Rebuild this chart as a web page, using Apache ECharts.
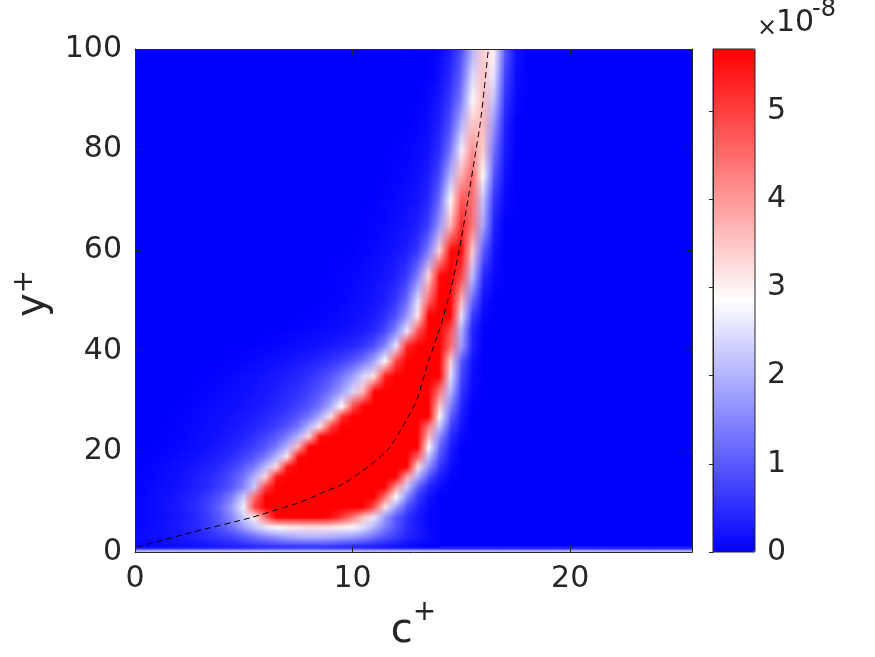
<!DOCTYPE html>
<html><head><meta charset="utf-8">
<script src="https://cdn.jsdelivr.net/npm/echarts@6/dist/echarts.min.js"></script>
<style>html,body{margin:0;padding:0;background:#fff}#c{width:875px;height:657px}</style>
</head><body><div id="c"></div>
<script>
// ---- data (values in units of 1e-8), sampled every cStep in c+ starting at rowC0 ----
const cStep = 0.5;
const rowY = [0.2, 1, 3, 5, 7, 9, 11, 13, 15, 17, 19, 21, 23, 25, 27, 29, 32, 35, 38, 41, 44, 47, 50, 55, 60, 65, 70, 75, 80, 85, 90, 95, 99];
const rowC0 = [0, 0, 0, 0, 0, 0, 0, 0, 0, 0, 0, 1, 1, 1.5, 1.5, 2, 2.5, 3, 4, 5.5, 7, 8, 8.5, 9, 10, 10.5, 11, 11.5, 12, 12.5, 13, 13.5, 13.5];
const rowVals = [
  [2,2,2,2,2,2,2,2,2,2,2,2,2,2,2,2,2,2,2,2,2,2,2,2,2,2,2,2,2,2,2,2,2,2,2,2,2,2,2,2,2,2,2,2,2,2,2,2,2,2,2,2,2],
  [0.05,0.05,0.08,0.1,0.12,0.15,0.18,0.2,0.25,0.3,0.35,0.4,0.45,0.5,0.5,0.5,0.5,0.5,0.45,0.4,0.35,0.3,0.25,0.2,0.15,0.1,0.05,0],
  [0.1,0.12,0.15,0.2,0.25,0.3,0.4,0.5,0.6,0.75,0.95,1.2,1.4,1.6,1.8,1.9,1.95,1.95,1.9,1.8,1.7,1.5,1.2,0.9,0.65,0.4,0.25,0.12,0],
  [0.08,0.1,0.15,0.2,0.28,0.38,0.5,0.7,0.95,1.3,1.75,2.2,2.6,2.85,3.0,3.1,3.15,3.15,3.1,3.0,2.8,2.5,2.0,1.4,0.9,0.5,0.25,0.1,0],
  [0.05,0.08,0.12,0.18,0.25,0.35,0.5,0.75,1.1,1.6,2.3,3.0,4.5,5.7,5.7,5.7,5.7,5.7,5.6,5.1,4.4,3.5,2.6,1.7,1.0,0.55,0.25,0.08,0],
  [0.05,0.08,0.13,0.2,0.28,0.4,0.55,0.8,1.2,1.8,2.7,5.0,5.7,5.7,5.7,5.7,5.7,5.7,5.7,5.7,5.7,5.7,4.8,3.1,1.8,0.9,0.4,0.1,0],
  [0.05,0.08,0.12,0.18,0.25,0.35,0.5,0.7,1.0,1.5,2.3,4.5,5.7,5.7,5.7,5.7,5.7,5.7,5.7,5.7,5.7,5.7,5.7,4.4,2.85,1.5,0.6,0.2,0],
  [0.04,0.06,0.1,0.14,0.2,0.28,0.38,0.5,0.7,1.0,1.5,2.3,5.0,5.7,5.7,5.7,5.7,5.7,5.7,5.7,5.7,5.7,5.7,5.7,4.0,2.3,1.1,0.4,0.1,0],
  [0.03,0.05,0.08,0.12,0.18,0.25,0.35,0.48,0.65,0.9,1.3,2.0,3.3,5.5,5.7,5.7,5.7,5.7,5.7,5.7,5.7,5.7,5.7,5.7,5.7,3.8,2.0,0.9,0.3,0.05,0],
  [0,0.03,0.06,0.1,0.15,0.2,0.28,0.38,0.5,0.7,1.0,1.4,2.1,3.2,5.5,5.7,5.7,5.7,5.7,5.7,5.7,5.7,5.7,5.7,5.7,5.7,3.2,1.6,0.6,0.15,0],
  [0,0,0.03,0.06,0.1,0.15,0.2,0.28,0.38,0.5,0.7,0.95,1.35,2.0,3.1,5.6,5.7,5.7,5.7,5.7,5.7,5.7,5.7,5.7,5.7,5.7,4.6,2.2,0.9,0.25,0],
  [0,0.03,0.06,0.1,0.15,0.2,0.28,0.38,0.5,0.7,0.95,1.35,2.0,3.6,5.7,5.7,5.7,5.7,5.7,5.7,5.7,5.7,5.7,5.7,5.7,2.85,1.2,0.35,0],
  [0,0.02,0.05,0.08,0.12,0.17,0.22,0.3,0.4,0.55,0.75,1.0,1.4,2.0,3.3,5.6,5.7,5.7,5.7,5.7,5.7,5.7,5.7,5.7,5.7,3.6,1.6,0.5,0.1,0],
  [0,0.04,0.07,0.1,0.14,0.18,0.24,0.3,0.4,0.52,0.7,0.95,1.3,2.0,3.1,5.0,5.7,5.7,5.7,5.7,5.7,5.7,5.7,5.7,4.3,2.2,0.8,0.2,0],
  [0,0.03,0.06,0.09,0.12,0.16,0.2,0.26,0.33,0.42,0.55,0.72,0.95,1.3,1.9,3.1,5.2,5.7,5.7,5.7,5.7,5.7,5.7,5.7,5.7,2.9,1.1,0.3,0],
  [0,0.03,0.06,0.09,0.12,0.16,0.2,0.26,0.33,0.42,0.55,0.72,0.95,1.3,1.9,2.85,4.8,5.7,5.7,5.7,5.7,5.7,5.7,5.7,3.4,1.5,0.4,0],
  [0,0.03,0.06,0.09,0.12,0.16,0.2,0.26,0.33,0.42,0.55,0.72,0.95,1.3,1.75,2.4,3.6,5.7,5.7,5.7,5.7,5.7,5.7,4.4,2.1,0.6,0.1,0],
  [0,0.03,0.06,0.09,0.12,0.16,0.2,0.26,0.33,0.42,0.55,0.72,0.95,1.3,1.75,2.4,3.2,5.4,5.7,5.7,5.7,5.7,5.7,2.6,0.8,0.15,0],
  [0,0.03,0.06,0.09,0.12,0.16,0.2,0.26,0.33,0.42,0.55,0.72,0.95,1.3,1.85,2.85,5.0,5.7,5.7,5.7,5.7,3.3,1.0,0.2,0],
  [0,0.03,0.06,0.09,0.12,0.16,0.2,0.26,0.33,0.42,0.6,0.9,1.5,2.6,5.3,5.7,5.7,5.7,4.5,1.8,0.4,0],
  [0,0.03,0.06,0.09,0.12,0.16,0.22,0.3,0.45,0.8,1.5,2.6,4.8,5.7,5.7,4.8,2.0,0.4,0],
  [0,0.03,0.06,0.1,0.14,0.2,0.3,0.5,0.9,1.7,3.1,5.7,5.7,5.7,2.6,0.7,0.1,0],
  [0,0.03,0.06,0.1,0.15,0.22,0.35,0.6,1.2,2.5,4.6,5.7,5.7,3.6,1.2,0.2,0],
  [0,0.03,0.06,0.1,0.15,0.22,0.35,0.65,1.4,3.3,5.6,5.7,5.0,2.2,0.5,0.1,0],
  [0,0.04,0.08,0.13,0.2,0.32,0.6,1.4,3.3,5.6,5.6,3.4,1.1,0.2,0],
  [0,0.04,0.08,0.13,0.2,0.35,0.7,1.7,3.6,5.3,4.4,1.9,0.4,0],
  [0,0.04,0.08,0.13,0.22,0.45,1.2,2.85,4.8,4.5,2.2,0.6,0.1,0],
  [0,0.04,0.08,0.15,0.3,0.8,2.0,3.7,4.6,2.85,1.0,0.2,0],
  [0,0.04,0.1,0.2,0.5,1.3,2.7,4.1,3.4,1.3,0.3,0],
  [0,0.05,0.12,0.35,0.9,2.0,3.5,3.6,1.7,0.4,0],
  [0,0.08,0.25,0.65,1.4,2.8,3.6,2.2,0.6,0.1,0],
  [0,0.15,0.45,1.1,2.4,3.5,2.6,0.8,0.15,0],
  [0,0.1,0.35,0.9,2.0,3.4,3.0,1.0,0.2,0]
];
// dashed profile (c+, y+)
const lineC = [0.1, 2.6, 5.3, 7.6, 8.5, 9.6, 10.7, 11.6, 12.3, 12.95, 13.5, 14.05, 14.5, 14.9, 15.3, 15.6, 15.86, 16.05, 16.24];
const lineY = [1.0, 3.9, 6.8, 9.9, 11.6, 13.6, 16.9, 20.2, 24.9, 30.2, 38.1, 45, 52, 60, 70, 78, 85, 92, 100];
const xRange = [0, 25.6];
const yRange = [0, 100];
const cbRange = [0, 5.7];
const cmap = ['#0000ff', '#ffffff', '#ff0000'];

// ---- build ----
const cells = [];
const idxMap = {};
rowVals.forEach((vals, r) => vals.forEach((v, k) => {
  const c = rowC0[r] + k * cStep;
  idxMap[r * 1000 + Math.round(c / cStep)] = cells.length;
  cells.push([c, rowY[r], v, r]);
}));
const lineData = lineC.map((c, i) => [c, lineY[i]]);
const lastRow = rowY.length - 1;

function renderCell(params, api) {
  const c = api.value(0), r = api.value(3);
  const k = Math.round(c / cStep);
  const col = (rr, kk) => {
    const id = idxMap[rr * 1000 + kk];
    return id === undefined ? cmap[0] : api.visual('color', id);
  };
  const children = [];
  const addQuad = (yA, yB, LL, LR, UL, UR) => {
    const pA = api.coord([c, yA]), pB = api.coord([c + cStep, yB]);
    const x = pA[0] - 0.5, w = pB[0] - pA[0] + 1;
    const H = pA[1] - pB[1];
    const n = (LL === UL && LR === UR) ? 1 : Math.max(1, Math.ceil(H / 2));
    for (let j = 0; j < n; j++) {
      const t = n === 1 ? 0 : (j + 0.5) / n;
      const y0 = pA[1] - H * j / n, y1 = pA[1] - H * (j + 1) / n;
      const left = n === 1 ? LL : echarts.color.lerp(t, [LL, UL]);
      const right = n === 1 ? LR : echarts.color.lerp(t, [LR, UR]);
      children.push({type: 'rect', shape: {x: x, y: y1 - 0.5, width: w, height: y0 - y1 + 1},
        style: {fill: {type: 'linear', x: 0, y: 0, x2: 1, y2: 0, colorStops: [{offset: 0, color: left}, {offset: 1, color: right}]}}});
    }
  };
  const LL = col(r, k), LR = col(r, k + 1);
  if (r < lastRow) {
    addQuad(rowY[r], rowY[r + 1], LL, LR, col(r + 1, k), col(r + 1, k + 1));
  } else {
    addQuad(rowY[r], yRange[1], LL, LR, LL, LR);
  }
  if (r === 0) addQuad(yRange[0], rowY[0], LL, LR, LL, LR);
  return {type: 'group', children: children};
}

const TXT = '#262626';
const FONT = 'DejaVu Sans';
const chart = echarts.init(document.getElementById('c'), null, {renderer: 'canvas'});
const mainAxisCommon = {
  type: 'value', gridIndex: 0, splitLine: {show: false}, z: 5,
  axisLine: {show: true, onZero: false, lineStyle: {color: TXT, width: 1}},
  axisTick: {show: true, inside: true, length: 6, lineStyle: {color: TXT}},
};
chart.setOption({
  animation: false,
  backgroundColor: '#ffffff',
  textStyle: {fontFamily: FONT},
  grid: [
    {left: 135, top: 49, width: 557, height: 503, show: true, backgroundColor: cmap[0], borderWidth: 0},
    {left: 713, top: 49, width: 42, height: 503, show: true, backgroundColor: 'rgba(0,0,0,0)', borderColor: TXT, borderWidth: 1, z: 10}
  ],
  xAxis: [
    Object.assign({}, mainAxisCommon, {position: 'bottom', min: xRange[0], max: xRange[1], interval: 10,
      axisLabel: {fontSize: 30, color: TXT, margin: 12, fontFamily: FONT, showMaxLabel: false},
      name: '{m|c}{s|+}', nameLocation: 'middle', nameGap: 45,
      nameTextStyle: {rich: {m: {fontSize: 40, color: TXT, fontFamily: FONT}, s: {fontSize: 28, color: TXT, fontFamily: FONT, padding: [0, 0, 38, 0]}}}}),
    Object.assign({}, mainAxisCommon, {position: 'top', min: xRange[0], max: xRange[1], interval: 10, axisLabel: {show: false}}),
    {type: 'value', gridIndex: 1, show: false, min: 0, max: 1}
  ],
  yAxis: [
    Object.assign({}, mainAxisCommon, {position: 'left', min: yRange[0], max: yRange[1], interval: 20,
      axisLabel: {fontSize: 30, color: TXT, margin: 13, fontFamily: FONT},
      name: '{m|y}{s|+}', nameLocation: 'middle', nameGap: 78, nameRotate: 90,
      nameTextStyle: {padding: [0, 0, 0, 14], rich: {m: {fontSize: 40, color: TXT, fontFamily: FONT}, s: {fontSize: 28, color: TXT, fontFamily: FONT, padding: [0, 0, 18, 0]}}}}),
    Object.assign({}, mainAxisCommon, {position: 'right', min: yRange[0], max: yRange[1], interval: 20, axisLabel: {show: false}}),
    {type: 'value', gridIndex: 1, position: 'right', min: cbRange[0], max: cbRange[1], interval: 1, z: 12,
      splitLine: {show: false},
      axisLine: {show: true, lineStyle: {color: TXT, width: 1}},
      axisTick: {show: true, inside: true, length: 4, lineStyle: {color: TXT}},
      axisLabel: {fontSize: 30, color: TXT, margin: 12, fontFamily: FONT, showMaxLabel: false}}
  ],
  visualMap: {
    type: 'continuous', min: cbRange[0], max: cbRange[1], seriesIndex: 0, dimension: 2,
    inRange: {color: cmap},
    show: true, calculable: false, hoverLink: false, orient: 'vertical',
    left: 713, top: 49, itemWidth: 42, itemHeight: 503, padding: 0, text: null
  },
  graphic: [
    {type: 'text', left: 757, top: 17, style: {text: '×', fontSize: 24, fill: TXT, fontFamily: FONT}},
    {type: 'text', left: 776, top: 8, style: {text: '10', fontSize: 30, fill: TXT, fontFamily: FONT}},
    {type: 'text', left: 812, top: -2, style: {text: '-8', fontSize: 24, fill: TXT, fontFamily: FONT}}
  ],
  series: [
    {type: 'custom', xAxisIndex: 0, yAxisIndex: 0, clip: true, z: 2, data: cells, renderItem: renderCell},
    {type: 'line', xAxisIndex: 0, yAxisIndex: 0, data: lineData, showSymbol: false, symbol: 'none', smooth: 0.2, z: 3,
      lineStyle: {color: '#000000', width: 1, type: [6, 4]}}
  ]
});
</script></body></html>
